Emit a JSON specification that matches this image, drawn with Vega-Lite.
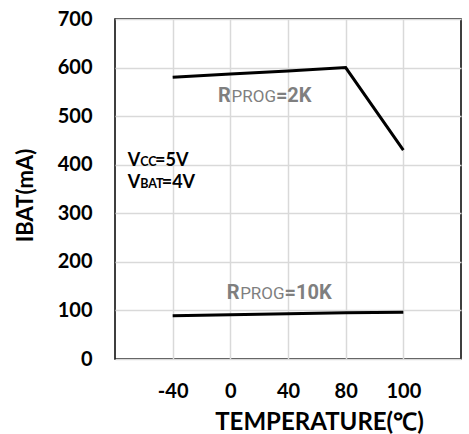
{
  "$schema": "https://vega.github.io/schema/vega-lite/v6.json",
  "width": 346,
  "height": 340,
  "autosize": {"type": "none"},
  "padding": {"left": 115, "top": 19, "right": 8, "bottom": 75},
  "background": "white",
  "config": {
    "font": "Lato",
    "view": {"stroke": "#000000", "strokeWidth": 1.5},
    "axis": {
      "domain": false,
      "ticks": false,
      "grid": true,
      "gridColor": "#d9d9d9",
      "gridWidth": 1.5,
      "labelFont": "Lato",
      "labelFontWeight": "bold",
      "labelFontSize": 20,
      "labelColor": "#000000",
      "titleFont": "Lato",
      "titleFontWeight": "bold",
      "titleColor": "#000000"
    }
  },
  "datasets": {
    "curves": [
      {"T": "-40", "I": 580, "series": "RPROG=2K"},
      {"T": "0", "I": 587, "series": "RPROG=2K"},
      {"T": "40", "I": 593, "series": "RPROG=2K"},
      {"T": "80", "I": 600, "series": "RPROG=2K"},
      {"T": "100", "I": 430, "series": "RPROG=2K"},
      {"T": "-40", "I": 89, "series": "RPROG=10K"},
      {"T": "0", "I": 91, "series": "RPROG=10K"},
      {"T": "40", "I": 93, "series": "RPROG=10K"},
      {"T": "80", "I": 95, "series": "RPROG=10K"},
      {"T": "100", "I": 96, "series": "RPROG=10K"}
    ],
    "notes": [
      {"group": "rprog", "role": "main", "piece": "R", "xi": 0.786, "I": 529},
      {"group": "rprog", "role": "sub", "piece": "PROG", "xi": 1.02, "I": 529},
      {"group": "rprog", "role": "main", "piece": "=2K", "xi": 1.79, "I": 529},
      {"group": "rprog", "role": "main", "piece": "R", "xi": 0.937, "I": 123.5},
      {"group": "rprog", "role": "sub", "piece": "PROG", "xi": 1.17, "I": 123.5},
      {"group": "rprog", "role": "main", "piece": "=10K", "xi": 1.94, "I": 123.5},
      {"group": "cond", "role": "main", "piece": "V", "xi": -0.78, "I": 397},
      {"group": "cond", "role": "sub", "piece": "CC", "xi": -0.563, "I": 397},
      {"group": "cond", "role": "main", "piece": "=5V", "xi": -0.306, "I": 397},
      {"group": "cond", "role": "main", "piece": "V", "xi": -0.78, "I": 352},
      {"group": "cond", "role": "sub", "piece": "BAT", "xi": -0.563, "I": 352},
      {"group": "cond", "role": "main", "piece": "=4V", "xi": -0.19, "I": 352}
    ]
  },
  "resolve": {"scale": {"x": "independent"}, "axis": {"x": "independent"}},
  "layer": [
    {
      "data": {"name": "curves"},
      "mark": {"type": "line", "color": "#000000", "strokeWidth": 3},
      "encoding": {
        "x": {
          "field": "T",
          "type": "ordinal",
          "sort": ["-40", "0", "40", "80", "100"],
          "scale": {"type": "point", "padding": 1},
          "axis": {
            "labelAngle": 0,
            "labelPadding": 22,
            "title": "TEMPERATURE(℃)",
            "titleFontSize": 24,
            "titleX": 204,
            "titleY": 70,
            "titleAlign": "center",
            "titleBaseline": "alphabetic"
          }
        },
        "y": {
          "field": "I",
          "type": "quantitative",
          "scale": {"domain": [0, 700], "nice": false},
          "axis": {
            "values": [0, 100, 200, 300, 400, 500, 600, 700],
            "labelPadding": 23,
            "title": "IBAT(mA)",
            "titleFontSize": 22,
            "titleAngle": -90,
            "titleX": -83,
            "titleY": 176,
            "titleAlign": "center",
            "titleBaseline": "alphabetic"
          }
        },
        "detail": {"field": "series", "type": "nominal"}
      }
    },
    {
      "data": {"name": "notes"},
      "transform": [{"filter": "datum.group === 'rprog' && datum.role === 'main'"}],
      "mark": {"type": "text", "align": "left", "baseline": "alphabetic", "font": "Roboto", "fontWeight": "bold", "fontSize": 20, "color": "#7f7f7f"},
      "encoding": {
        "x": {"field": "xi", "type": "quantitative", "scale": {"domain": [-1, 5], "nice": false, "zero": false}, "axis": null},
        "y": {"field": "I", "type": "quantitative"},
        "text": {"field": "piece"}
      }
    },
    {
      "data": {"name": "notes"},
      "transform": [{"filter": "datum.group === 'rprog' && datum.role === 'sub'"}],
      "mark": {"type": "text", "align": "left", "baseline": "alphabetic", "font": "Roboto", "fontWeight": "normal", "fontSize": 17, "color": "#7f7f7f"},
      "encoding": {
        "x": {"field": "xi", "type": "quantitative", "scale": {"domain": [-1, 5], "nice": false, "zero": false}, "axis": null},
        "y": {"field": "I", "type": "quantitative"},
        "text": {"field": "piece"}
      }
    },
    {
      "data": {"name": "notes"},
      "transform": [{"filter": "datum.group === 'cond' && datum.role === 'main'"}],
      "mark": {"type": "text", "align": "left", "baseline": "alphabetic", "font": "Lato", "fontWeight": "bold", "fontSize": 18, "color": "#000000"},
      "encoding": {
        "x": {"field": "xi", "type": "quantitative", "scale": {"domain": [-1, 5], "nice": false, "zero": false}, "axis": null},
        "y": {"field": "I", "type": "quantitative"},
        "text": {"field": "piece"}
      }
    },
    {
      "data": {"name": "notes"},
      "transform": [{"filter": "datum.group === 'cond' && datum.role === 'sub'"}],
      "mark": {"type": "text", "align": "left", "baseline": "alphabetic", "font": "Lato", "fontWeight": "bold", "fontSize": 12.5, "color": "#000000"},
      "encoding": {
        "x": {"field": "xi", "type": "quantitative", "scale": {"domain": [-1, 5], "nice": false, "zero": false}, "axis": null},
        "y": {"field": "I", "type": "quantitative"},
        "text": {"field": "piece"}
      }
    }
  ]
}
